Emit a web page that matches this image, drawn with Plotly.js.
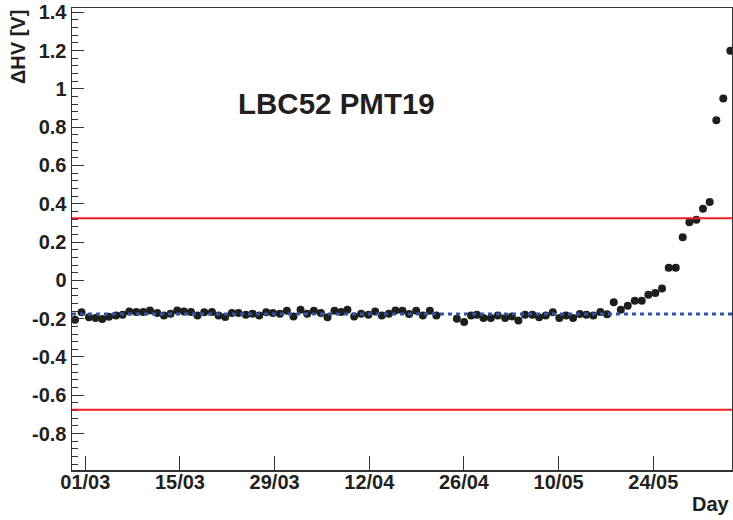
<!DOCTYPE html>
<html><head><meta charset="utf-8">
<script src="https://cdn.plot.ly/plotly-3.0.1.min.js"></script>
<style>html,body{margin:0;padding:0;background:#fff}</style>
</head><body><div id="chart" style="width:733px;height:520px"></div>
<script>
const dates = [
 '2015-02-27 11:30','2015-02-28 10:50','2015-03-01 13:00','2015-03-02 12:30','2015-03-03 12:15',
 '2015-03-04 12:00','2015-03-05 13:00','2015-03-06 12:15','2015-03-07 12:00','2015-03-08 13:00',
 '2015-03-09 13:40','2015-03-10 13:30','2015-03-11 15:20','2015-03-12 15:00','2015-03-13 14:40',
 '2015-03-14 14:20','2015-03-15 14:10','2015-03-16 15:00','2015-03-17 14:20','2015-03-18 14:10',
 '2015-03-19 17:30','2015-03-20 16:50','2015-03-21 16:35','2015-03-22 16:30','2015-03-23 15:50',
 '2015-03-24 18:00','2015-03-25 17:30','2015-03-26 17:20','2015-03-27 18:00','2015-03-28 18:00',
 '2015-03-29 18:45','2015-03-30 19:30','2015-03-31 19:00','2015-04-01 20:00','2015-04-02 19:30',
 '2015-04-03 19:15','2015-04-04 20:10','2015-04-05 19:40','2015-04-06 20:25','2015-04-07 20:10',
 '2015-04-08 18:30','2015-04-09 18:15','2015-04-10 19:10','2015-04-11 21:00','2015-04-12 20:50',
 '2015-04-13 20:35','2015-04-14 21:20','2015-04-15 20:50','2015-04-16 21:40','2015-04-17 21:20',
 '2015-04-18 22:20','2015-04-19 22:05','2015-04-20 23:00','2015-04-21 22:20','2015-04-24 22:50',
 '2015-04-26 00:40','2015-04-27 01:25','2015-04-27 21:40','2015-04-28 21:05','2015-04-29 23:20',
 '2015-05-01 00:00','2015-05-02 02:00','2015-05-03 01:40','2015-05-04 01:10','2015-05-05 01:00',
 '2015-05-06 02:50','2015-05-07 02:40','2015-05-08 02:25','2015-05-09 03:20','2015-05-10 02:40',
 '2015-05-11 02:25','2015-05-12 03:20','2015-05-13 03:05','2015-05-14 02:25','2015-05-15 03:20',
 '2015-05-16 04:05','2015-05-17 03:50','2015-05-18 03:35','2015-05-19 04:35','2015-05-20 05:20',
 '2015-05-21 06:10','2015-05-22 07:00','2015-05-23 06:30','2015-05-24 07:15','2015-05-25 07:00',
 '2015-05-26 06:45','2015-05-27 07:40','2015-05-28 08:25','2015-05-29 08:00','2015-05-30 08:50',
 '2015-05-31 08:25','2015-06-01 08:10','2015-06-02 07:40','2015-06-03 08:25','2015-06-04 09:20'
];
const dHV = [
 -0.205,-0.167,-0.193,-0.196,-0.202,
 -0.190,-0.183,-0.179,-0.162,-0.165,
 -0.165,-0.157,-0.170,-0.184,-0.174,
 -0.157,-0.162,-0.165,-0.184,-0.167,
 -0.165,-0.184,-0.191,-0.170,-0.170,
 -0.179,-0.174,-0.184,-0.167,-0.170,
 -0.174,-0.158,-0.188,-0.153,-0.174,
 -0.158,-0.170,-0.193,-0.158,-0.165,
 -0.153,-0.188,-0.174,-0.179,-0.162,
 -0.184,-0.174,-0.157,-0.158,-0.176,
 -0.158,-0.183,-0.158,-0.183,-0.200,
 -0.217,-0.184,-0.179,-0.196,-0.196,
 -0.183,-0.196,-0.188,-0.210,-0.179,
 -0.179,-0.193,-0.184,-0.167,-0.196,
 -0.184,-0.196,-0.176,-0.179,-0.184,
 -0.165,-0.177,-0.114,-0.153,-0.132,
 -0.106,-0.106,-0.075,-0.066,-0.043,
 0.066,0.066,0.225,0.303,0.317,
 0.374,0.409,0.836,0.950,1.199
];
const meanLevel = -0.176;
const limitLevels = [0.324, -0.676];
const xRange = ['2015-02-27 00:49','2015-06-04 15:20'];
const yRange = [-0.99, 1.422];
const xTickVals = ['2015-03-01','2015-03-15','2015-03-29','2015-04-12','2015-04-26','2015-05-10','2015-05-24'];
const xTickText = ['01/03','15/03','29/03','12/04','26/04','10/05','24/05'];
const yTickVals = [-0.8,-0.6,-0.4,-0.2,0,0.2,0.4,0.6,0.8,1,1.2,1.4];
const yTickText = ['-0.8','-0.6','-0.4','-0.2','0','0.2','0.4','0.6','0.8','1','1.2','1.4'];
const chartLabel = 'LBC52 PMT19';
const xTitle = 'Day';
const yTitle = '\u0394HV [V]';

const FONT = 'Liberation Sans, Arial, Helvetica, sans-serif';
const INK = '#231f20';
const tickFont = {family: FONT, size: 20, color: INK, weight: 700};

const shapes = limitLevels.map(v => ({
  type: 'line', xref: 'paper', x0: 0, x1: 1, yref: 'y', y0: v, y1: v,
  line: {color: '#ee1c25', width: 2}, layer: 'above'
}));
shapes.push({
  type: 'line', xref: 'paper', x0: 0, x1: 1, yref: 'y', y0: meanLevel, y1: meanLevel,
  line: {color: '#2e54a8', width: 3, dash: '4px,4px'}, layer: 'above'
});

const data = [{
  type: 'scatter', mode: 'markers', x: dates, y: dHV,
  marker: {color: '#1e1e1e', size: 8, line: {width: 0}}
}];

const layout = {
  width: 733, height: 520,
  margin: {l: 72, r: 1, t: 8, b: 50},
  paper_bgcolor: '#fff', plot_bgcolor: '#fff',
  showlegend: false,
  xaxis: {
    type: 'date', range: xRange, tickmode: 'array', tickvals: xTickVals, ticktext: xTickText,
    ticks: 'inside', ticklen: 14, tickwidth: 1, tickcolor: '#333', ticklabelstandoff: -7,
    showline: true, linecolor: '#333', linewidth: 1.5, mirror: true,
    showgrid: false, zeroline: false, tickfont: tickFont
  },
  yaxis: {
    range: yRange, tickmode: 'array', tickvals: yTickVals, ticktext: yTickText,
    ticks: 'inside', ticklen: 12, tickwidth: 1, tickcolor: '#333',
    minor: {tickmode: 'linear', tick0: 0, dtick: 0.04, ticks: 'inside', ticklen: 6, tickwidth: 1, tickcolor: '#333', showgrid: false},
    showline: true, linecolor: '#333', linewidth: 1.5, mirror: true,
    showgrid: false, zeroline: false, tickfont: tickFont
  },
  shapes: shapes,
  annotations: [
    {text: chartLabel, xref: 'paper', yref: 'paper', x: 0.4015, y: 0.794, xanchor: 'center', yanchor: 'middle',
     showarrow: false, font: {family: FONT, size: 29.5, color: INK, weight: 700}},
    {text: xTitle, xref: 'paper', yref: 'paper', x: 1, y: -0.0736, xanchor: 'right', yanchor: 'middle',
     showarrow: false, font: {family: FONT, size: 20, color: INK, weight: 700}},
    {text: yTitle, xref: 'paper', yref: 'paper', x: -0.0818, y: 1, xanchor: 'center', yanchor: 'top',
     textangle: -90, showarrow: false, font: {family: FONT, size: 20, color: INK, weight: 700}}
  ]
};

Plotly.newPlot('chart', data, layout, {displayModeBar: false, staticPlot: true});
</script>
</body></html>
